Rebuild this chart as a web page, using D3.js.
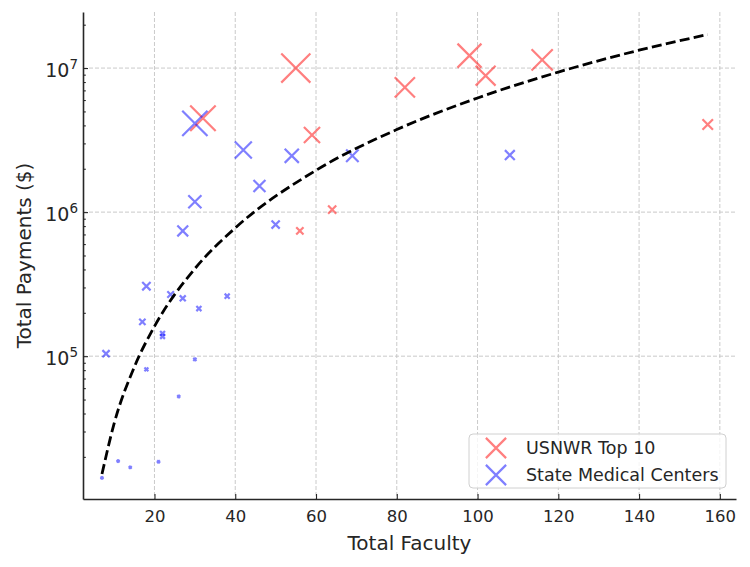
<!DOCTYPE html>
<html>
<head>
<meta charset="utf-8">
<script src="https://cdn.jsdelivr.net/npm/d3@7"></script>
<style>
  body { margin: 0; background: #fff; }
  svg { display: block; font-family: "DejaVu Sans", sans-serif; }
</style>
</head>
<body>
<svg id="chart" width="750" height="567"></svg>
<script>
// ================================
// DATA
// ================================
const seriesNames = ["USNWR Top 10", "State Medical Centers"];

const usnwrFaculty = [32, 55, 59, 82, 56, 64, 98, 102, 116, 157];
const usnwrPayments = [4.48e6, 1.0e7, 3.43e6, 7.35e6, 7.4e5, 1.04e6, 1.22e7, 8.85e6, 1.14e7, 4.06e6];

const stateFaculty = [30, 42, 54, 69, 46, 30, 27, 50, 108, 18, 17, 22, 22, 8, 18, 24, 27, 31, 38, 30, 26, 11, 14, 21, 7];
const statePayments = [4.13e6, 2.70e6, 2.46e6, 2.46e6, 1.52e6, 1.18e6, 7.4e5, 8.2e5, 2.49e6, 3.06e5, 1.73e5, 1.44e5, 1.37e5, 1.04e5, 8.1e4, 2.68e5, 2.52e5, 2.14e5, 2.61e5, 9.5e4, 5.25e4, 1.87e4, 1.69e4, 1.85e4, 1.43e4];

// dashed fit line
const trendFaculty = [7, 10, 15, 20, 30, 40, 60, 80, 100, 120, 140, 157];
const trendPayments = [1.52e4, 3.4e4, 8.4e4, 1.61e5, 4.05e5, 7.76e5, 1.95e6, 3.74e6, 6.2e6, 9.38e6, 1.33e7, 1.71e7];

const xTicks = [20, 40, 60, 80, 100, 120, 140, 160];
const yTicks = [1e5, 1e6, 1e7];
const yTickExp = ["5", "6", "7"];
const yMinorTicks = [2e4, 3e4, 4e4, 5e4, 6e4, 7e4, 8e4, 9e4,
  2e5, 3e5, 4e5, 5e5, 6e5, 7e5, 8e5, 9e5,
  2e6, 3e6, 4e6, 5e6, 6e6, 7e6, 8e6, 9e6, 2e7];

// ================================
// SETUP
// ================================
const width = 750;
const height = 567;
const margin = { top: 12, right: 14, bottom: 68, left: 83 };

const svg = d3.select("#chart");
const textColor = "#262626";
const colors = ["rgb(255,0,0)", "rgb(0,0,255)"];

const xScale = d3.scaleLinear().domain([2.3, 164]).range([margin.left, width - margin.right]);
const yScale = d3.scaleLog().domain([1.02e4, 2.45e7]).range([height - margin.bottom, margin.top]);
// marker size follows payments per faculty member
const sizeScale = d3.scaleSqrt().domain([0, 200000]).range([0, 31.4]);

const usnwr = usnwrFaculty.map((f, i) => ({ x: f, y: usnwrPayments[i] }));
const state = stateFaculty.map((f, i) => ({ x: f, y: statePayments[i] }));
const trend = trendFaculty.map((f, i) => ({ x: f, y: trendPayments[i] }));

const crossPath = (span) => {
  const h = Math.max(span / 2 - 0.4, 1.4);
  return `M${-h},${-h}L${h},${h}M${-h},${h}L${h},${-h}`;
};

// --- GRID ---
const grid = svg.append("g")
  .attr("stroke", "#c4c4c4")
  .attr("stroke-width", 0.9)
  .attr("stroke-dasharray", "4,2");

grid.selectAll(".gx")
  .data(xTicks)
  .join("line")
  .attr("x1", d => xScale(d)).attr("x2", d => xScale(d))
  .attr("y1", margin.top).attr("y2", height - margin.bottom);

grid.selectAll(".gy")
  .data(yTicks)
  .join("line")
  .attr("x1", margin.left).attr("x2", width - margin.right)
  .attr("y1", d => yScale(d)).attr("y2", d => yScale(d));

// --- POINTS ---
[usnwr, state].forEach((series, k) => {
  svg.append("g")
    .selectAll("path")
    .data(series)
    .join("path")
    .attr("transform", d => `translate(${xScale(d.x)},${yScale(d.y)})`)
    .attr("d", d => crossPath(sizeScale(d.y / d.x)))
    .attr("fill", "none")
    .attr("stroke", colors[k])
    .attr("stroke-opacity", 0.5)
    .attr("stroke-width", 2.2);
});

// --- TREND LINE ---
const lineGen = d3.line()
  .x(d => xScale(d.x))
  .y(d => yScale(d.y))
  .curve(d3.curveMonotoneX);

svg.append("path")
  .datum(trend)
  .attr("d", lineGen)
  .attr("fill", "none")
  .attr("stroke", "black")
  .attr("stroke-width", 2.8)
  .attr("stroke-dasharray", "10,4.3");

// --- AXES ---
const xAxis = svg.append("g")
  .attr("transform", `translate(0, ${height - margin.bottom})`)
  .call(d3.axisBottom(xScale).tickValues(xTicks).tickSizeInner(-5).tickSizeOuter(0).tickPadding(11));

const yAxis = svg.append("g")
  .attr("transform", `translate(${margin.left}, 0)`)
  .call(d3.axisLeft(yScale).tickValues(yTicks).tickFormat(() => "").tickSizeInner(-5).tickSizeOuter(0));

svg.append("g")
  .attr("transform", `translate(${margin.left}, 0)`)
  .call(d3.axisLeft(yScale).tickValues(yMinorTicks).tickFormat(() => "").tickSizeInner(-2.8).tickSizeOuter(0))
  .call(g => g.select(".domain").remove());

svg.selectAll(".domain").attr("stroke", textColor).attr("stroke-width", 1.6);
svg.selectAll(".tick line").attr("stroke", textColor).attr("stroke-width", 1.1);

xAxis.selectAll("text")
  .attr("fill", textColor)
  .style("font-size", "16.5px")
  .style("font-family", "DejaVu Sans, sans-serif");

// y labels as 10^n
const yLab = yAxis.selectAll(".tick")
  .append("text")
  .attr("x", -5)
  .attr("y", 0)
  .attr("dy", "0.42em")
  .attr("text-anchor", "end")
  .attr("fill", textColor)
  .style("font-size", "19px")
  .style("font-family", "DejaVu Sans, sans-serif");
yLab.append("tspan").text("10");
yLab.append("tspan")
  .attr("dy", "-0.55em")
  .style("font-size", "13.5px")
  .text((d, i) => yTickExp[i]);

// axis titles
svg.append("text")
  .attr("x", (margin.left + width - margin.right) / 2)
  .attr("y", 550)
  .attr("text-anchor", "middle")
  .attr("fill", textColor)
  .style("font-size", "20px")
  .text("Total Faculty");

svg.append("text")
  .attr("transform", `translate(31, ${(margin.top + height - margin.bottom) / 2}) rotate(-90)`)
  .attr("text-anchor", "middle")
  .attr("fill", textColor)
  .style("font-size", "20px")
  .text("Total Payments ($)");

// --- LEGEND ---
const legend = svg.append("g").attr("transform", "translate(469, 434)");

legend.append("rect")
  .attr("width", 257)
  .attr("height", 54)
  .attr("rx", 4)
  .attr("fill", "white")
  .attr("fill-opacity", 0.8)
  .attr("stroke", "#d0d0d0");

seriesNames.forEach((name, k) => {
  const row = legend.append("g").attr("transform", `translate(0, ${14 + k * 27})`);
  row.append("path")
    .attr("transform", "translate(27, 0)")
    .attr("d", crossPath(21))
    .attr("fill", "none")
    .attr("stroke", colors[k])
    .attr("stroke-opacity", 0.5)
    .attr("stroke-width", 2.2);
  row.append("text")
    .attr("x", 57)
    .attr("dy", "0.36em")
    .attr("fill", textColor)
    .style("font-size", "17.5px")
    .text(name);
});
</script>
</body>
</html>
